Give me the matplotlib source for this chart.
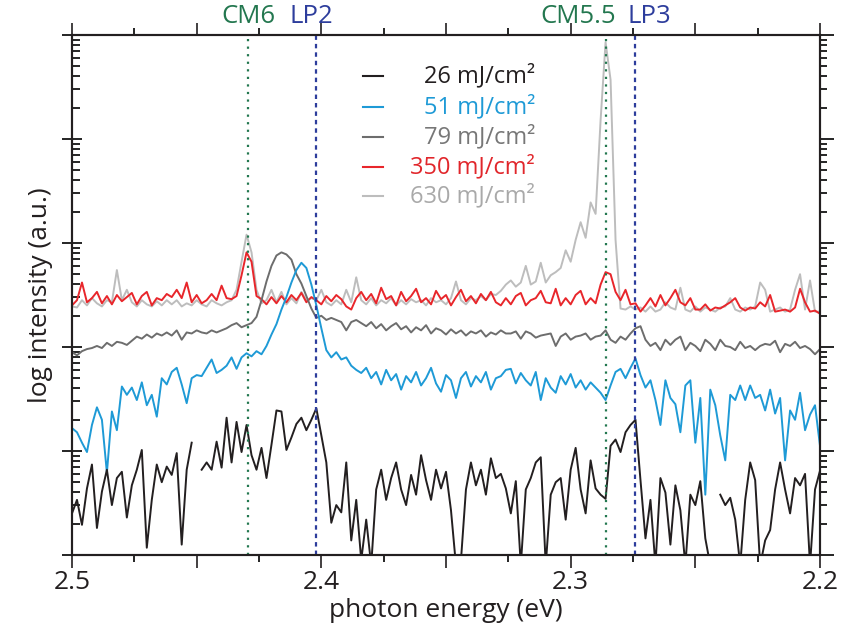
import numpy as np
import matplotlib
matplotlib.use("Agg")
import matplotlib.pyplot as plt
from matplotlib.ticker import MultipleLocator, FuncFormatter, LogLocator, NullFormatter
from matplotlib.transforms import blended_transform_factory

plt.rcParams['font.family'] = ['Open Sans', 'DejaVu Sans']

nan = np.nan
# photon energy grid (eV), 2 meV step
energy = np.linspace(2.5, 2.2, 151)

# log10 intensity (a.u.) per fluence
log_i_26 = [
    0.40, 0.53, 0.29, 0.64, 0.87, 0.26, 0.61, 0.82, 0.48, 0.74,
    0.80, 0.36, 0.67, 0.82, 1.01, 0.07, 0.53, 0.87, 0.70, 0.85,
    0.77, 0.98, 0.10, 0.82, 1.08, nan, 0.82, 0.89, 0.82, 1.09,
    0.84, 1.32, 0.89, 1.28, 0.99, 1.25, 0.96, 0.82, 1.03, 0.74,
    1.06, 1.39, 1.38, 1.01, 1.13, 1.26, 1.32, 1.20, 1.30, 1.41,
    1.15, 0.89, 0.31, 0.48, 0.41, 0.89, 0.14, 0.53, -0.05, 0.34,
    -0.10, 0.63, 0.82, 0.53, 0.74, 0.89, 0.63, 0.48, 0.77, 0.58,
    0.96, 0.72, 0.53, 0.82, 0.64, 0.80, 0.43, -0.10, -0.05, 0.63,
    0.89, 0.67, 0.82, 0.58, 0.93, 0.74, 0.78, 0.64, 0.40, 0.71,
    -0.10, 0.63, 0.74, 0.89, 0.94, -0.10, 0.58, 0.70, 0.74, 0.34,
    0.82, 1.03, 0.63, 0.40, 0.91, 0.64, 0.58, 0.54, 1.05, 1.11,
    0.99, 1.18, 1.25, 1.30, 0.72, 0.16, 0.53, -0.10, 0.74, 0.60,
    0.10, 0.67, 0.43, -0.10, 0.58, 0.48, 0.71, 0.16, -0.10, nan,
    0.58, 0.48, 0.55, 0.34, -0.10, 0.53, 0.89, 0.72, -0.10, 0.14,
    0.24, 0.63, 0.89, 0.63, 0.40, 0.74, 0.67, 0.78, -0.10, 0.63,
    0.81]

log_i_51 = [
    1.22, 1.18, 1.08, 0.99, 1.25, 1.42, 1.30, 0.79, 1.38, 1.20,
    1.62, 1.54, 1.61, 1.49, 1.66, 1.44, 1.54, 1.33, 1.70, 1.64,
    1.76, 1.80, 1.64, 1.46, 1.70, 1.73, 1.72, 1.80, 1.88, 1.75,
    1.78, 1.82, 1.90, 1.79, 1.90, 1.94, 1.91, 1.96, 1.93, 2.01,
    2.12, 2.22, 2.36, 2.48, 2.62, 2.74, 2.81, 2.76, 2.60, 2.40,
    2.18, 1.97, 1.90, 1.95, 1.88, 1.90, 1.82, 1.78, 1.75, 1.80,
    1.70, 1.76, 1.64, 1.78, 1.68, 1.74, 1.59, 1.72, 1.66, 1.76,
    1.63, 1.70, 1.80, 1.65, 1.57, 1.73, 1.68, 1.51, 1.70, 1.76,
    1.62, 1.72, 1.66, 1.76, 1.59, 1.70, 1.72, 1.78, 1.79, 1.65,
    1.75, 1.68, 1.63, 1.76, 1.49, 1.70, 1.61, 1.56, 1.72, 1.64,
    1.74, 1.61, 1.68, 1.59, 1.66, 1.61, 1.56, 1.49, 1.63, 1.76,
    1.79, 1.70, 1.80, 1.89, 1.73, 1.61, 1.68, 1.49, 1.25, 1.68,
    1.51, 1.45, 1.18, 1.63, 1.68, 1.08, 1.51, 0.58, 1.59, 1.44,
    1.15, 0.91, 1.54, 1.49, 1.63, 1.49, 1.63, 1.51, 1.54, 1.39,
    1.59, 1.36, 1.51, 0.91, 1.39, 1.30, 1.56, 1.20, 1.35, 1.44,
    1.05]

log_i_79 = [
    1.95, 1.92, 1.96, 1.98, 1.99, 2.01, 1.99, 2.04, 2.01, 2.05,
    2.04, 2.02, 2.06, 2.10, 2.08, 2.12, 2.09, 2.13, 2.11, 2.14,
    2.11, 2.16, 2.07, 2.14, 2.13, 2.16, 2.14, 2.13, 2.16, 2.14,
    2.16, 2.18, 2.21, 2.23, 2.19, 2.21, 2.23, 2.29, 2.45, 2.63,
    2.78, 2.88, 2.91, 2.89, 2.84, 2.70, 2.61, 2.49, 2.37, 2.28,
    2.30, 2.26, 2.28, 2.26, 2.24, 2.16, 2.24, 2.26, 2.23, 2.20,
    2.24, 2.18, 2.22, 2.16, 2.20, 2.23, 2.17, 2.20, 2.14, 2.19,
    2.16, 2.21, 2.13, 2.18, 2.16, 2.12, 2.17, 2.13, 2.16, 2.11,
    2.15, 2.13, 2.16, 2.10, 2.14, 2.12, 2.16, 2.13, 2.13, 2.15,
    2.08, 2.15, 2.13, 2.09, 2.11, 2.12, 2.13, 2.01, 2.10, 2.13,
    2.07, 2.10, 2.11, 2.13, 2.07, 2.10, 2.11, 2.16, 2.07, 2.04,
    2.10, 2.07, 2.13, 2.18, 2.20, 2.07, 2.01, 2.04, 1.97, 2.07,
    2.02, 2.07, 2.10, 1.97, 2.04, 2.01, 1.96, 2.07, 2.03, 1.97,
    2.07, 2.01, 2.00, 1.97, 2.05, 1.99, 2.01, 1.97, 2.01, 2.03,
    2.02, 2.06, 1.95, 2.03, 2.01, 2.05, 1.99, 2.01, 1.98, 1.93,
    1.98]

log_i_350 = [
    2.40, 2.45, 2.62, 2.43, 2.47, 2.53, 2.42, 2.49, 2.41, 2.50,
    2.44, 2.48, 2.52, 2.41, 2.49, 2.53, 2.40, 2.47, 2.45, 2.51,
    2.48, 2.55, 2.47, 2.62, 2.43, 2.50, 2.42, 2.45, 2.51, 2.45,
    2.59, 2.47, 2.46, 2.49, 2.69, 2.91, 2.82, 2.49, 2.46, 2.41,
    2.48, 2.42, 2.49, 2.43, 2.50, 2.45, 2.52, 2.43, 2.48, 2.45,
    2.41, 2.49, 2.44, 2.50, 2.46, 2.39, 2.36, 2.47, 2.53, 2.45,
    2.51, 2.42, 2.57, 2.46, 2.49, 2.40, 2.53, 2.44, 2.49, 2.56,
    2.43, 2.47, 2.41, 2.54, 2.46, 2.50, 2.40, 2.48, 2.55, 2.44,
    2.49, 2.42, 2.51, 2.45, 2.53, 2.43, 2.40, 2.47, 2.41, 2.49,
    2.52, 2.40, 2.45, 2.47, 2.54, 2.43, 2.42, 2.56, 2.40, 2.47,
    2.41, 2.50, 2.54, 2.41, 2.47, 2.42, 2.60, 2.72, 2.70, 2.53,
    2.45, 2.55, 2.41, 2.42, 2.34, 2.40, 2.47, 2.39, 2.50, 2.40,
    2.47, 2.55, 2.43, 2.40, 2.47, 2.36, 2.36, 2.41, 2.35, 2.38,
    2.37, 2.40, 2.43, 2.47, 2.38, 2.35, 2.38, 2.37, 2.43, 2.39,
    2.50, 2.34, 2.35, 2.36, 2.34, 2.38, 2.56, 2.43, 2.34, 2.35,
    2.32]

log_i_630 = [
    2.39, 2.38, 2.45, 2.40, 2.47, 2.42, 2.39, 2.45, 2.43, 2.74,
    2.45, 2.55, 2.43, 2.39, 2.45, 2.41, 2.39, 2.44, 2.40, 2.45,
    2.41, 2.45, 2.39, 2.42, 2.40, 2.45, 2.41, 2.39, 2.45, 2.42,
    2.40, 2.43, 2.45, 2.55, 2.82, 3.08, 2.91, 2.55, 2.42, 2.45,
    2.55, 2.43, 2.53, 2.41, 2.47, 2.42, 2.53, 2.45, 2.47, 2.45,
    2.55, 2.43, 2.40, 2.45, 2.41, 2.55, 2.43, 2.67, 2.45, 2.41,
    2.47, 2.40, 2.45, 2.42, 2.47, 2.40, 2.45, 2.41, 2.46, 2.43,
    2.45, 2.40, 2.47, 2.43, 2.45, 2.41, 2.47, 2.63, 2.45, 2.41,
    2.47, 2.45, 2.49, 2.45, 2.51, 2.50, 2.54, 2.60, 2.64, 2.58,
    2.62, 2.78, 2.60, 2.63, 2.81, 2.62, 2.69, 2.72, 2.76, 2.93,
    2.82, 3.03, 3.20, 3.05, 3.39, 3.28, 4.18, 4.93, 4.57, 3.03,
    2.37, 2.36, 2.39, 2.36, 2.38, 2.34, 2.39, 2.34, 2.36, 2.43,
    2.38, 2.36, 2.57, 2.36, 2.34, 2.39, 2.34, 2.38, 2.36, 2.34,
    2.38, 2.39, 2.47, 2.36, 2.34, 2.38, 2.36, 2.39, 2.62, 2.55,
    2.34, 2.36, 2.38, 2.34, 2.36, 2.55, 2.70, 2.36, 2.64, 2.34,
    2.34]

fluence_labels = ["26 mJ/cm²", "51 mJ/cm²", "79 mJ/cm²", "350 mJ/cm²", "630 mJ/cm²"]
line_colors = ["#231f20", "#1e9ad6", "#6d6d6d", "#e8262b", "#bdbdbd"]
text_colors = ["#231f20", "#1e9ad6", "#777777", "#e1262b", "#a9a9a9"]

# mode markers
mode_names = ["CM6", "LP2", "CM5.5", "LP3"]
mode_energy = [2.4294, 2.4021, 2.2858, 2.2742]
mode_label_energy = [2.4294, 2.4040, 2.2970, 2.2685]
mode_kind = ["CM", "LP", "CM", "LP"]

fig = plt.figure(figsize=(8.41, 6.34), dpi=100)
ax = fig.add_axes([72/841, 1-555/634, 748/841, 520/634])

series = [log_i_630, log_i_350, log_i_79, log_i_51, log_i_26]
cols = [line_colors[4], line_colors[3], line_colors[2], line_colors[1], line_colors[0]]
for vals, c in zip(series, cols):
    ax.plot(energy, 10.0**np.array(vals), color=c, lw=1.4, solid_joinstyle='round')

cm_col = "#23774f"
lp_col = "#2d3d9c"
for e, k in zip(mode_energy, mode_kind):
    if k == "CM":
        ax.axvline(e, color=cm_col, lw=1.6, ls=(0, (1, 2.4)), zorder=5)
    else:
        ax.axvline(e, color=lp_col, lw=1.6, ls=(0, (2.0, 1.8)), zorder=5)

trans = blended_transform_factory(ax.transData, ax.transAxes)
for name, e, k in zip(mode_names, mode_label_energy, mode_kind):
    ax.text(e, 1.036, name, transform=trans, ha='center', va='center',
            fontsize=18.5, color=cm_col if k == "CM" else lp_col)

ax.set_yscale('log')
ax.set_ylim(1, 1e5)
ax.set_xlim(2.5, 2.2)

ax.xaxis.set_major_locator(MultipleLocator(0.05))
ax.xaxis.set_minor_locator(MultipleLocator(0.025))
def fmt(v, pos):
    r = round(v * 10)
    if abs(v * 10 - r) < 1e-6:
        return f"{v:.1f}"
    return ""
ax.xaxis.set_major_formatter(FuncFormatter(fmt))
ax.tick_params(axis='x', which='major', direction='out', length=9, width=1.2,
               top=True, bottom=True, labelsize=19, pad=2, colors='#231f20')
ax.tick_params(axis='x', which='minor', direction='out', length=5, width=1.2,
               top=True, bottom=True)

ax.yaxis.set_major_locator(LogLocator(base=10, numticks=10))
ax.yaxis.set_minor_locator(LogLocator(base=10, subs=np.arange(2, 10), numticks=20))
ax.yaxis.set_major_formatter(NullFormatter())
ax.yaxis.set_minor_formatter(NullFormatter())
ax.tick_params(axis='y', which='major', direction='inout', length=14, width=1.2, right=False)
ax.tick_params(axis='y', which='minor', direction='in', length=6, width=1.2, right=False)

ax2 = ax.twinx()
ax2.set_yscale('log')
ax2.set_ylim(1, 1e5)
ax2.yaxis.set_major_locator(LogLocator(base=10, numticks=10))
ax2.yaxis.set_minor_locator(LogLocator(base=10, subs=np.arange(2, 10), numticks=20))
ax2.yaxis.set_major_formatter(NullFormatter())
ax2.yaxis.set_minor_formatter(NullFormatter())
ax2.tick_params(axis='y', which='major', direction='out', length=10, width=1.2)
ax2.tick_params(axis='y', which='minor', direction='out', length=5, width=1.2)

for a in (ax, ax2):
    for s in a.spines.values():
        s.set_linewidth(1.5)
        s.set_color('#231f20')

ax.set_xlabel("photon energy (eV)", fontsize=19, labelpad=2, color='#231f20')
ax.set_ylabel("log intensity (a.u.)", fontsize=19, labelpad=3, color='#231f20')

# legend drawn as text rows
row_y = [0.921, 0.862, 0.804, 0.746, 0.690]
for lab, lc, tc, yy in zip(fluence_labels, line_colors, text_colors, row_y):
    ax.plot([0.389, 0.416], [yy, yy], transform=ax.transAxes, color=lc, lw=1.5, clip_on=False)
    ax.text(0.619, yy, lab, transform=ax.transAxes, ha='right', va='center',
            fontsize=17, color=tc)

fig.savefig("out.png", dpi=100)
